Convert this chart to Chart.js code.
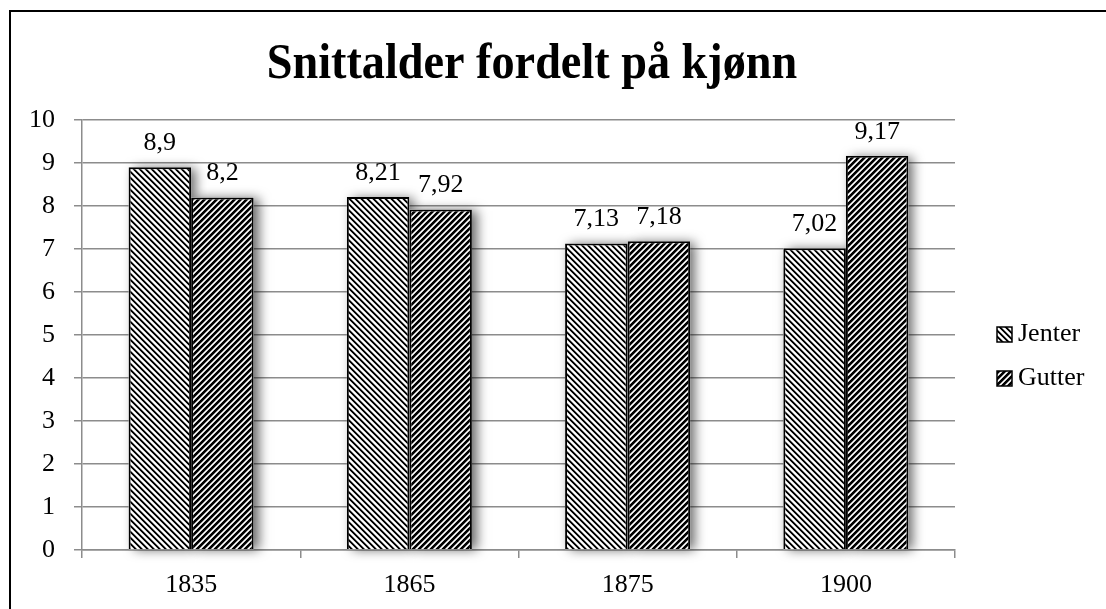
<!DOCTYPE html>
<html>
<head>
<meta charset="utf-8">
<script src="https://cdn.jsdelivr.net/npm/chart.js@4.4.1/dist/chart.umd.min.js"></script>
<style>
  html, body { margin: 0; padding: 0; background: #fff; overflow: hidden; }
  #ramme { position: absolute; left: 9px; top: 10px; width: 1200px; height: 700px; border: 2px solid #000; }
  #wrap { position: absolute; left: 0; top: 0; width: 1106px; height: 609px; }
</style>
</head>
<body>
<div id="ramme"></div>
<div id="wrap"><canvas id="graf" width="1106" height="609"></canvas></div>
<script>
// data lest av figuren
const tittel = 'Snittalder fordelt på kjønn';
const aar = ['1835', '1865', '1875', '1900'];
const jenter = [8.9, 8.21, 7.13, 7.02];
const gutter = [8.2, 7.92, 7.18, 9.17];
const yMin = 0, yMax = 10, ySteg = 1;

const FONT = '"Liberation Serif", "Times New Roman", serif';
const graa = '#8c8c8c';

// skravering: retning 1 = "\" , -1 = "/"
function lagMonster(retning, svart) {
  const c = document.createElement('canvas');
  c.width = 6; c.height = 6;
  const g = c.getContext('2d');
  const img = g.createImageData(6, 6);
  for (let y = 0; y < 6; y++) {
    for (let x = 0; x < 6; x++) {
      const d = retning > 0 ? ((x - y) % 6 + 6) % 6 : (x + y) % 6;
      let v = 255;
      if (d < svart) v = 0;
      else if (d === svart) v = 140;
      else if (d === 5) v = 200;
      const i = (y * 6 + x) * 4;
      img.data[i] = img.data[i + 1] = img.data[i + 2] = v;
      img.data[i + 3] = 255;
    }
  }
  g.putImageData(img, 0, 0);
  return g.createPattern(c, 'repeat');
}
const monsterJenter = lagMonster(1, 2);
const monsterGutter = lagMonster(-1, 3);

function komma(v) { return String(v).replace('.', ','); }

// skygge bak stolpene
const skygge = {
  id: 'skygge',
  beforeDatasetsDraw(chart) {
    const ctx = chart.ctx;
    ctx.save();
    ctx.shadowColor = 'rgba(0,0,0,0.6)';
    ctx.shadowBlur = 11;
    ctx.shadowOffsetX = 5;
    ctx.shadowOffsetY = 1;
    ctx.fillStyle = '#fff';
    chart.data.datasets.forEach((ds, i) => {
      chart.getDatasetMeta(i).data.forEach(el => {
        ctx.fillRect(el.x - el.width / 2, el.y, el.width, el.base - el.y);
      });
    });
    ctx.restore();
  }
};

// tittel, verdier og forklaring
const tekster = {
  id: 'tekster',
  afterDraw(chart) {
    const ctx = chart.ctx;
    ctx.save();
    ctx.fillStyle = '#000';
    ctx.font = 'bold 50px ' + FONT;
    ctx.textAlign = 'center';
    ctx.textBaseline = 'alphabetic';
    ctx.save();
    ctx.translate(532, 78);
    ctx.scale(0.925, 1);
    ctx.fillText(tittel, 0, 0);
    ctx.restore();

    ctx.font = '26px ' + FONT;
    ctx.textBaseline = 'middle';
    chart.data.datasets.forEach((ds, i) => {
      chart.getDatasetMeta(i).data.forEach((el, j) => {
        ctx.fillText(komma(ds.data[j]), el.x, el.y - 24);
      });
    });

    ctx.textAlign = 'left';
    chart.data.datasets.forEach((ds, i) => {
      const y = 334 + i * 44;
      ctx.fillStyle = ds.backgroundColor;
      ctx.fillRect(997, y - 7, 15, 15);
      ctx.strokeStyle = '#000';
      ctx.lineWidth = 1.5;
      ctx.strokeRect(997, y - 7, 15, 15);
      ctx.fillStyle = '#000';
      ctx.fillText(ds.label, 1018, y);
    });
    ctx.restore();
  }
};

new Chart(document.getElementById('graf'), {
  type: 'bar',
  data: {
    labels: aar,
    datasets: [
      { label: 'Jenter', data: jenter, backgroundColor: monsterJenter, borderColor: '#000', borderWidth: 2 },
      { label: 'Gutter', data: gutter, backgroundColor: monsterGutter, borderColor: '#000', borderWidth: 2 }
    ]
  },
  options: {
    responsive: false,
    animation: false,
    devicePixelRatio: 1,
    categoryPercentage: 0.573,
    barPercentage: 1,
    layout: { padding: { top: 120, right: 151, left: 0, bottom: 0 } },
    plugins: {
      legend: { display: false },
      title: { display: false },
      tooltip: { enabled: false }
    },
    scales: {
      x: {
        grid: { display: true, drawOnChartArea: false, color: graa, lineWidth: 1.5, tickLength: 8 },
        border: { display: true, color: graa, width: 1.5 },
        ticks: { color: '#000', font: { family: FONT, size: 26 }, padding: 12 },
        afterFit(s) { s.height = 59; }
      },
      y: {
        min: yMin, max: yMax,
        grid: { color: graa, lineWidth: 1.5, tickLength: 8 },
        border: { display: true, color: graa, width: 1.5 },
        ticks: { stepSize: ySteg, color: '#000', font: { family: FONT, size: 26 }, padding: 19 },
        afterFit(s) { s.width = 82; }
      }
    }
  },
  plugins: [skygge, tekster]
});
</script>
</body>
</html>
